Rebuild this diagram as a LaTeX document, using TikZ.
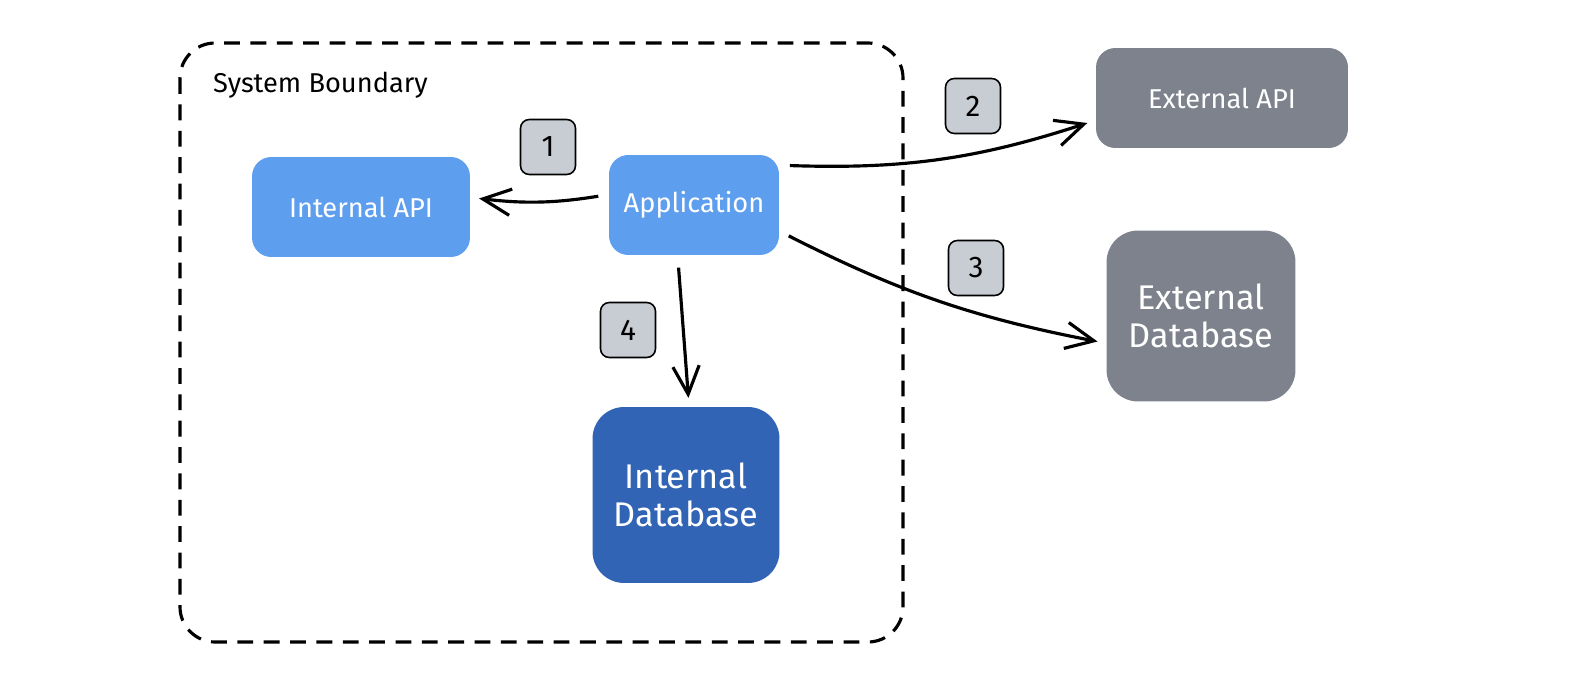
\documentclass[tikz,border=0pt]{standalone}
\usepackage{fontspec}
\setmainfont{Fira Sans}
\usetikzlibrary{arrows.meta}

\definecolor{appblue}{HTML}{5E9EEE}
\definecolor{dbblue}{HTML}{3264B5}
\definecolor{extgray}{HTML}{7D828C}
\definecolor{badgegray}{HTML}{C8CCD3}

\begin{document}
\begin{tikzpicture}[x=0.02cm, y=-0.02cm,
	box/.style={rectangle, rounded corners=11pt, text=white, align=center, inner sep=0pt, font=\fontsize{15.5}{18}\selectfont},
	bigbox/.style={box, rounded corners=18pt, font=\fontsize{19.5}{22}\selectfont},
	badge/.style={rectangle, draw=black, line width=0.9pt, fill=badgegray, rounded corners=5pt, minimum width=1.1cm, minimum height=1.1cm, inner sep=0pt, font=\fontsize{17}{20}\selectfont},
	flow/.style={-{Straight Barb[length=16pt,width=15pt]}, line width=1.8pt, shorten >=5pt, shorten <=6pt}]
	
	\useasboundingbox (0,0) rectangle (1592,696);
	
	\draw [line width=1.8pt, dash pattern=on 9pt off 6pt, rounded corners=20pt]    (180,43)    rectangle    (903,642);
	\node [anchor=west, font=\fontsize{15.5}{18}\selectfont] (sblabel) at (207,85) {System Boundary};
	
	\node [box, fill=appblue, minimum width=4.36cm, minimum height=2cm]    (intapi) at ( 361,207) {Internal API};
	\node [box, fill=appblue, minimum width=3.4cm,  minimum height=2cm]    (app)    at ( 694,205) {Application};
	\node [box, fill=extgray, minimum width=5.04cm, minimum height=2cm]    (extapi) at (1222, 98) {External API};
	\node [bigbox, fill=dbblue,  minimum width=3.74cm, minimum height=3.52cm] (intdb) at ( 686,495) {Internal\\Database};
	\node [bigbox, fill=extgray, minimum width=3.78cm, minimum height=3.42cm] (extdb) at (1201,316) {External\\Database};
	
	\node [badge] (b1) at (548,147) {1};
	\node [badge] (b2) at (973,106) {2};
	\node [badge] (b3) at (976,268) {3};
	\node [badge] (b4) at (628,330) {4};
	
	\draw [flow] (app.173) to[bend left=8]  (intapi.5);
	\draw [flow] (app.25)  to[bend right=10] (extapi.190);
	\draw [flow] (app.-17) to[bend right=8]  (extdb.196);
	\draw [flow, shorten <=7pt] (app.252) -- (intdb.88);
	
\end{tikzpicture}
\end{document}
